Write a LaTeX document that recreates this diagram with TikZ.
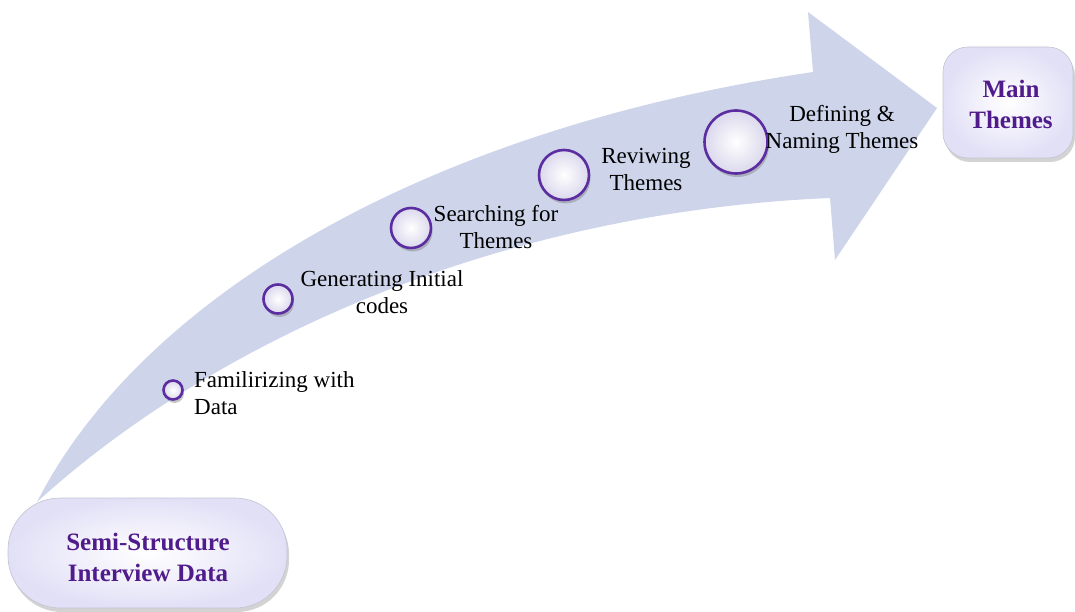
\documentclass[tikz,border=0pt]{standalone}
\usepackage{fontspec}
\setmainfont{Liberation Serif}
\usetikzlibrary{shadows}
\definecolor{arrowblue}{RGB}{206,213,234}
\definecolor{ringpurple}{RGB}{92,45,160}
\definecolor{textpurple}{RGB}{80,28,140}
\definecolor{lav}{RGB}{226,224,246}
\definecolor{lavc}{RGB}{218,216,236}
\definecolor{boxedge}{RGB}{195,195,210}
\begin{document}
\begin{tikzpicture}[x=1pt,y=-1pt,
  stage/.style={circle, draw=ringpurple, line width=2.6pt, inner color=white, outer color=lavc,
    drop shadow={opacity=0.45, shadow xshift=1.5pt, shadow yshift=-3.5pt}, inner sep=0pt},
  lbl/.style={font=\fontsize{23}{27}\selectfont, align=center, inner sep=0pt},
  endbox/.style={draw=boxedge, line width=0.6pt, inner color=white, outer color=lav,
    drop shadow={opacity=0.35, shadow xshift=2pt, shadow yshift=-4pt}, inner sep=0pt},
  endtxt/.style={font=\fontsize{25}{31}\selectfont\bfseries, text=textpurple, align=center, inner sep=0pt}
]
\useasboundingbox (0,0) rectangle (1075,612);
% curved arrow
\fill[arrowblue] (37,502) .. controls (140,300) and (420,130) .. (813,72) -- (808,12) -- (937,108)
  -- (835,260) -- (830,198) .. controls (500,212) and (215,340) .. (37,502) -- cycle;
% end boxes
\node[endbox, minimum width=279pt, minimum height=110pt, rounded corners=52pt] (b1) at (147.5,553) {};
\node[endtxt] (l1) at (148,557.5) {Semi-Structure\\Interview Data};
\node[endbox, minimum width=130pt, minimum height=111pt, rounded corners=25pt] (b2) at (1008,102.5) {};
\node[endtxt] (l2) at (1011,104) {Main\\Themes};
% stage circles
\node[stage, minimum size=19pt] (c1) at (173,390) {};
\node[stage, minimum size=29pt] (c2) at (278,299) {};
\node[stage, minimum size=40pt] (c3) at (411,228) {};
\node[stage, minimum size=50pt] (c4) at (564,175) {};
\node[stage, minimum size=63pt] (c5) at (736,142) {};
% labels
\node[lbl, align=left, anchor=west] (t1) at (194,393) {Familirizing with\\Data};
\node[lbl] (t2) at (382,292) {Generating Initial\\codes};
\node[lbl] (t3) at (496,227) {Searching for\\Themes};
\node[lbl] (t4) at (646,169) {Reviwing\\Themes};
\node[lbl] (t5) at (842,129) {Defining \&\\Naming Themes};
\end{tikzpicture}
\end{document}
